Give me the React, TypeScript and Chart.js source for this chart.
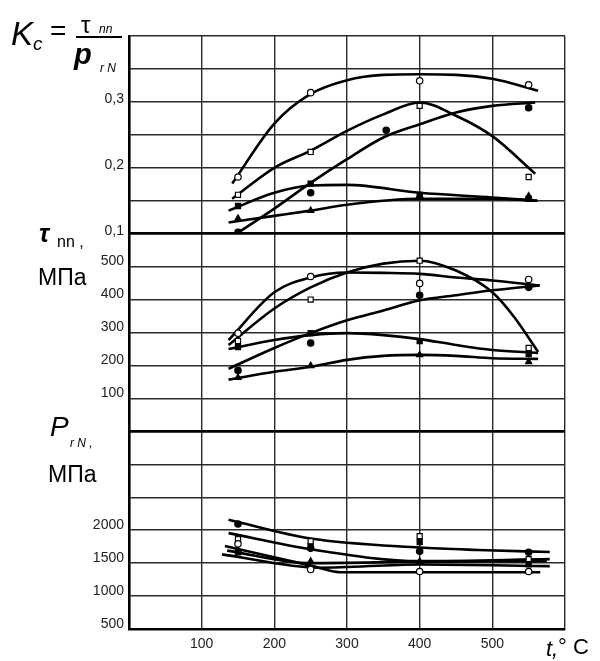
import React, { useEffect, useRef } from 'react';
import { Chart, registerables } from 'chart.js';

Chart.register(...registerables);

const FONT = '"Liberation Sans", Arial, Helvetica, sans-serif';

// ---- Axis ticks ----
const xTickLabels = [100, 200, 300, 400, 500];
const kcTickLabels = [0.1, 0.2, 0.3];
const tauTickLabels = [100, 200, 300, 400, 500];
const pTickLabels = [500, 1000, 1500, 2000];

// ---- Measured temperatures (°C) ----
const markerT = [150, 250, 400, 550];

// ---- Panel 1: Kc = tau_nn / p_rN ----
const kcOpenCircle = [0.186, 0.314, 0.332, 0.326];
const kcOpenSquare = [0.159, 0.224, 0.294, 0.186];
const kcFilledCircleT = [150, 250, 354, 550];
const kcFilledCircle = [0.102, 0.162, 0.257, 0.291];
const kcFilledSquare = [0.142, 0.176, 0.159, 0.153];
const kcTriangle = [0.123, 0.135, 0.158, 0.157];

const kcCurve1: [number, number][] = [[142, 0.176], [200, 0.267], [250, 0.312], [300, 0.333], [350, 0.341], [400, 0.342], [450, 0.341], [500, 0.335], [563, 0.317]];
const kcCurve2: [number, number][] = [[142, 0.153], [200, 0.2], [250, 0.226], [300, 0.256], [350, 0.281], [400, 0.299], [450, 0.279], [500, 0.248], [559, 0.191]];
const kcCurve3: [number, number][] = [[137, 0.092], [200, 0.138], [250, 0.177], [300, 0.213], [350, 0.246], [400, 0.266], [450, 0.284], [500, 0.294], [559, 0.299]];
const kcCurve4: [number, number][] = [[137, 0.135], [200, 0.162], [250, 0.173], [300, 0.174], [400, 0.162], [500, 0.155], [562, 0.15]];
const kcCurve5: [number, number][] = [[137, 0.117], [200, 0.127], [250, 0.135], [300, 0.144], [400, 0.153], [500, 0.153], [562, 0.15]];

// ---- Panel 2: tau_nn, MPa ----
const tauOpenCircle = [298, 470, 449, 461];
const tauOpenSquare = [274, 400, 518, 253];
const tauFilledCircle = [185, 268, 413, 437];
const tauFilledSquare = [256, 298, 274, 235];
const tauTriangle = [163, 199, 232, 211];

const tauCurve1: [number, number][] = [[137, 277], [200, 422], [250, 467], [300, 482], [350, 481], [400, 478], [450, 467], [500, 458], [565, 443]];
const tauCurve2: [number, number][] = [[137, 262], [200, 373], [250, 437], [300, 482], [350, 509], [400, 518], [450, 488], [500, 422], [530, 347], [563, 241]];
const tauCurve3: [number, number][] = [[137, 190], [200, 253], [250, 298], [300, 337], [350, 367], [400, 398], [450, 413], [500, 428], [565, 443]];
const tauCurve4: [number, number][] = [[137, 250], [200, 277], [250, 292], [300, 298], [350, 292], [400, 280], [450, 262], [500, 247], [563, 238]];
const tauCurve5: [number, number][] = [[137, 157], [200, 181], [250, 196], [300, 217], [350, 229], [400, 232], [450, 229], [500, 222], [563, 220]];

// ---- Panel 3: p_rN, MPa ----
const pOpenCircle = [1793, 1404, 1373, 1373];
const pOpenSquare = [1863, 1832, 1909, 1560];
const pFilledCircle = [2093, 1725, 1680, 1664];
const pFilledSquare = [1664, 1760, 1818, 1480];
const pTriangle = [1700, 1526, 1526, 1480];

const pCurve1: [number, number][] = [[137, 2158], [250, 1873], [400, 1736], [480, 1699], [579, 1668]];
const pCurve2: [number, number][] = [[137, 1955], [250, 1710], [400, 1531], [579, 1560]];
const pCurve3: [number, number][] = [[132, 1760], [253, 1454], [290, 1362], [566, 1362]];
const pCurve4: [number, number][] = [[128, 1633], [262, 1430], [400, 1480], [579, 1454]];
const pCurve5: [number, number][] = [[135, 1690], [250, 1500], [400, 1520], [575, 1530]];

type Style = 'circle' | 'rect' | 'triangle';

function markers(xs: number[], ys: number[], style: Style, filled: boolean, axis: string) {
  return {
    type: 'scatter' as const,
    data: xs.map((x, i) => ({ x, y: ys[i] })),
    pointStyle: style,
    pointRadius: style === 'circle' ? 3.2 : 3.6,
    pointBackgroundColor: filled ? '#000' : '#fff',
    pointBorderColor: '#000',
    pointBorderWidth: 1.2,
    showLine: false,
    yAxisID: axis,
    order: 0,
  };
}

function curve(pts: [number, number][], axis: string) {
  return {
    type: 'line' as const,
    data: pts.map(([x, y]) => ({ x, y })),
    borderColor: '#000',
    borderWidth: 2.6,
    pointRadius: 0,
    fill: false,
    cubicInterpolationMode: 'monotone' as const,
    yAxisID: axis,
    order: 1,
  };
}

const near = (a: number, list: number[]) => list.some((v) => Math.abs(v - a) < 1e-6);

const gridColor = '#2a2a2a';

function Label(props: { x: number; base: number; size: number; italic?: boolean; bold?: boolean; text: string }) {
  const { x, base, size, italic, bold, text } = props;
  return (
    <span
      style={{
        position: 'absolute',
        left: x,
        top: base - 0.8465 * size,
        fontFamily: FONT,
        fontSize: size,
        lineHeight: 1,
        fontStyle: italic ? 'italic' : 'normal',
        fontWeight: bold ? 'bold' : 'normal',
        whiteSpace: 'pre',
        color: '#000',
      }}
    >
      {text}
    </span>
  );
}

export default function App() {
  const canvasRef = useRef<HTMLCanvasElement | null>(null);

  useEffect(() => {
    const canvas = canvasRef.current;
    if (!canvas) return;

    const datasets: any[] = [
      markers(markerT, kcOpenCircle, 'circle', false, 'yK'),
      markers(markerT, kcOpenSquare, 'rect', false, 'yK'),
      markers(kcFilledCircleT, kcFilledCircle, 'circle', true, 'yK'),
      markers(markerT, kcFilledSquare, 'rect', true, 'yK'),
      markers(markerT, kcTriangle, 'triangle', true, 'yK'),
      markers(markerT, tauOpenCircle, 'circle', false, 'yT'),
      markers(markerT, tauOpenSquare, 'rect', false, 'yT'),
      markers(markerT, tauFilledCircle, 'circle', true, 'yT'),
      markers(markerT, tauFilledSquare, 'rect', true, 'yT'),
      markers(markerT, tauTriangle, 'triangle', true, 'yT'),
      markers(markerT, pOpenCircle, 'circle', false, 'yP'),
      markers(markerT, pOpenSquare, 'rect', false, 'yP'),
      markers(markerT, pFilledCircle, 'circle', true, 'yP'),
      markers(markerT, pFilledSquare, 'rect', true, 'yP'),
      markers(markerT, pTriangle, 'triangle', true, 'yP'),
      curve(kcCurve1, 'yK'),
      curve(kcCurve2, 'yK'),
      curve(kcCurve3, 'yK'),
      curve(kcCurve4, 'yK'),
      curve(kcCurve5, 'yK'),
      curve(tauCurve1, 'yT'),
      curve(tauCurve2, 'yT'),
      curve(tauCurve3, 'yT'),
      curve(tauCurve4, 'yT'),
      curve(tauCurve5, 'yT'),
      curve(pCurve1, 'yP'),
      curve(pCurve2, 'yP'),
      curve(pCurve3, 'yP'),
      curve(pCurve4, 'yP'),
      curve(pCurve5, 'yP'),
    ];

    const tickFont = { family: FONT, size: 14 };

    const yAxis = (
      min: number,
      max: number,
      step: number,
      labels: number[],
      fmt: (v: number) => string,
      boundaries: number[],
      labelOffset: number
    ) => ({
      type: 'linear' as const,
      position: 'left' as const,
      stack: 'panels',
      stackWeight: 1,
      min,
      max,
      ticks: {
        stepSize: step,
        autoSkip: false,
        padding: 5,
        labelOffset,
        color: '#222',
        font: tickFont,
        callback: (v: any) => (near(Number(v), labels) ? fmt(Number(v)) : ''),
      },
      grid: {
        drawTicks: false,
        color: (ctx: any) => (ctx.tick && near(ctx.tick.value, boundaries) ? '#000' : gridColor),
        lineWidth: (ctx: any) => (ctx.tick && near(ctx.tick.value, boundaries) ? 2.6 : 1.4),
      },
      border: { color: '#000', width: 2.6 },
      afterFit: (s: any) => {
        s.width = 129;
      },
    });

    const chart = new Chart(canvas, {
      type: 'scatter',
      data: { datasets },
      options: {
        animation: false,
        responsive: false,
        maintainAspectRatio: false,
        layout: { padding: { top: 36, right: 35, left: 0, bottom: 0 } },
        plugins: { legend: { display: false }, tooltip: { enabled: false } },
        scales: {
          x: {
            type: 'linear',
            min: 0,
            max: 600,
            ticks: {
              stepSize: 100,
              padding: 7,
              color: '#222',
              font: tickFont,
              callback: (v: any) => (near(Number(v), xTickLabels) ? String(v) : ''),
            },
            grid: { drawTicks: false, color: gridColor, lineWidth: 1.4 },
            border: { color: '#000', width: 2.6 },
            afterFit: (s: any) => {
              s.height = 32;
            },
          },
          yP: yAxis(500, 3500, 500, pTickLabels, (v) => String(v), [3500], -5),
          yT: yAxis(0, 600, 100, tauTickLabels, (v) => String(v), [0, 600], -5),
          yK: yAxis(0.1, 0.4, 0.05, kcTickLabels, (v) => v.toFixed(1).replace('.', ','), [0.1], -3),
        },
      } as any,
    });

    return () => {
      chart.destroy();
    };
  }, []);

  return (
    <div style={{ position: 'absolute', left: 0, top: 0, width: 600, height: 661, background: '#fff', overflow: 'hidden' }}>
      <canvas ref={canvasRef} width={600} height={661} style={{ position: 'absolute', left: 0, top: 0, width: 600, height: 661 }} />
      {/* K_c = tau_nn / p_rN */}
      <Label x={11} base={45} size={33} italic text="K" />
      <Label x={33} base={50} size={19} italic text="c" />
      <Label x={50} base={41} size={28} text="=" />
      <Label x={81} base={33} size={24} text="τ" />
      <Label x={99} base={33} size={12} italic text="nn" />
      <div style={{ position: 'absolute', left: 76, top: 36, width: 46, height: 2, background: '#000' }} />
      <Label x={74} base={65} size={29} italic bold text="p" />
      <Label x={100} base={72} size={12} italic text="r N" />
      {/* tau_nn, MPa */}
      <Label x={39} base={242} size={25} italic bold text="τ" />
      <Label x={57} base={248} size={16} text="nn ," />
      <Label x={38} base={285} size={23} text="МПа" />
      {/* p_rN, MPa */}
      <Label x={50} base={437} size={28} italic text="P" />
      <Label x={70} base={447} size={12} italic text="r N ," />
      <Label x={48} base={482} size={23} text="МПа" />
      {/* t, °C */}
      <Label x={546} base={657} size={22} italic text="t," />
      <Label x={558} base={655} size={22} text="° C" />
    </div>
  );
}
